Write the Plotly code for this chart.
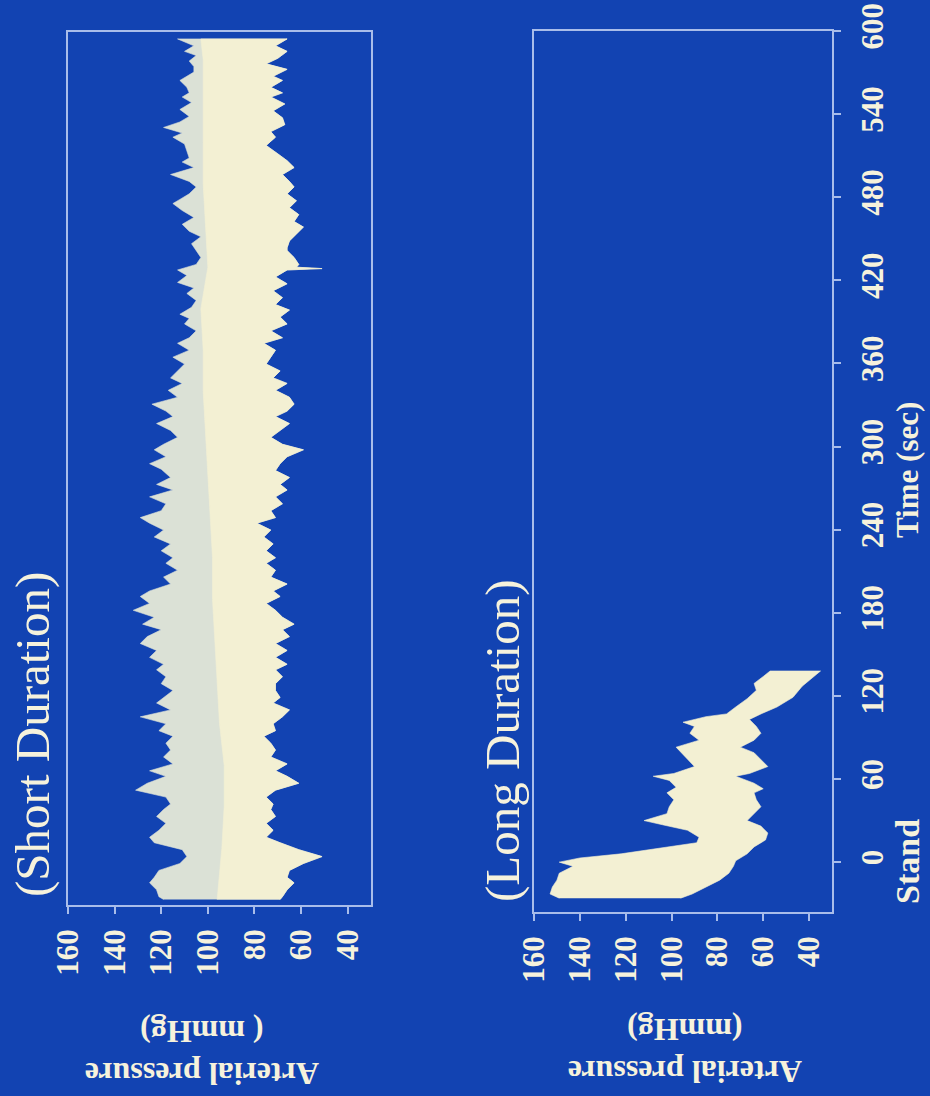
import plotly.graph_objects as go

# ---------------- data ----------------
# Short-duration subject: systolic (upper) envelope, time in s, pressure in mmHg
short_sys_t = [595, 590, 586, 583, 579, 575, 571, 565, 560, 556, 553, 549, 544, 539, 535, 531, 527, 524,
               519, 514, 509, 506, 502, 497, 492, 488, 483, 479, 476, 471, 466, 461, 456, 452, 447,
               442, 437, 432, 428, 424, 419, 415, 411, 406, 401, 396, 393, 389, 384, 379, 375, 370, 365,
               360, 355, 350, 346, 341, 336, 331, 326, 322, 317, 312, 307, 302, 298, 293, 288, 284,
               278, 273, 269, 264, 259, 254, 249, 245, 240, 235, 230, 225, 220, 216, 211, 206, 201, 196,
               192, 187, 182, 177, 172, 168, 163, 158, 153, 148, 143, 139, 134, 129,
               124, 119, 115, 110, 105, 100, 95, 91, 86, 81, 76, 71, 66, 62, 57, 52, 47, 42, 38, 33,
               28, 23, 18, 14, 9, 4, -1, -6, -11, -15, -20, -25, -27]
short_sys = [113, 106, 110, 105, 108, 106, 106, 112, 109, 108, 111, 107, 112, 108, 112, 119, 111, 115,
             110, 109, 108, 111, 106, 116, 108, 105, 108, 112, 115, 111, 106, 111, 108, 103, 107,
             105, 103, 105, 113, 109, 113, 106, 109, 105, 107, 112, 108, 110, 105, 108, 113, 108, 115,
             110, 113, 116, 111, 117, 113, 124, 118, 115, 122, 116, 113, 119, 123, 118, 125, 120,
             116, 122, 115, 125, 118, 120, 129, 125, 119, 123, 116, 120, 115, 118, 113, 119, 116, 125,
             129, 125, 132, 123, 128, 120, 126, 129, 122, 125, 119, 122, 118, 120,
             115, 119, 122, 116, 129, 118, 121, 115, 118, 116, 119, 115, 125, 118, 126, 131, 118, 116, 119, 122,
             118, 121, 125, 123, 111, 109, 112, 121, 123, 125, 122, 121, 119]

# Short-duration subject: diastolic (lower) envelope
short_dia_t = [595, 590, 586, 581, 577, 573, 568, 565, 560, 556, 553, 548, 543, 538, 533, 528, 524, 518,
               512, 507, 502, 497, 492, 488, 483, 478, 473, 468, 463, 459, 454, 449, 444,
               442, 437, 432, 430, 429, 428, 423, 418, 413, 408, 403, 399, 394, 389, 384, 379, 375, 370,
               365, 360, 355, 350, 346, 341, 336, 331, 326, 322, 317, 312, 307, 302, 298, 293, 288,
               283, 278, 273, 269, 264, 259, 254, 249, 245, 240, 235, 230, 225, 220, 216, 211, 206, 201,
               196, 192, 187, 182, 177, 172, 168, 163, 158, 153, 148, 143, 139, 134, 129,
               124, 119, 115, 110, 105, 100, 95, 91, 86, 81, 76, 71, 66, 62, 57, 52, 47, 42, 38, 33,
               28, 23, 18, 14, 9, 4, -1, -6, -11, -15, -20, -25, -27]
short_dia = [66, 71, 66, 70, 75, 66, 72, 68, 73, 68, 73, 67, 72, 68, 67, 73, 71, 75,
             70, 66, 63, 68, 65, 63, 66, 62, 65, 61, 63, 59, 62, 65, 66,
             66, 63, 61, 62, 51, 66, 71, 66, 72, 68, 71, 65, 69, 66, 73, 68, 76, 71,
             73, 75, 69, 72, 66, 71, 65, 63, 66, 71, 65, 69, 73, 68, 59, 66, 69,
             71, 65, 69, 66, 71, 68, 73, 71, 79, 73, 76, 72, 75, 71, 75, 71, 73, 66,
             72, 69, 75, 71, 68, 63, 68, 65, 71, 66, 71, 66, 71, 68, 71,
             71, 69, 72, 65, 68, 72, 71, 76, 73, 71, 73, 66, 71, 66, 61, 71, 75, 72, 73, 71,
             75, 72, 75, 69, 61, 51, 59, 65, 66, 63, 66, 68, 69]

# Short-duration subject: edge of the dense (mean-pressure) core of the trace
short_core_t = [-27, -10, 10, 40, 70, 100, 130, 160, 190, 220, 250, 280, 310, 340, 370, 400, 430,
                460, 490, 520, 550, 580, 595]
short_core = [96, 95, 94, 93, 93, 95, 96, 97, 98, 98, 99, 100, 101, 102, 102, 103, 100,
              101, 102, 102, 102, 102, 103]

# Long-duration subject: systolic envelope
long_sys_t = [138, 134, 129, 124, 118, 112, 107, 105, 101, 98, 93, 88, 83, 79, 74, 69, 64, 62, 59, 54,
              50, 45, 40, 35, 30, 27, 23, 18, 14, 10, 6, 3, 0, -3, -8, -13, -18, -23, -26]
long_sys = [57, 60, 64, 63, 67, 72, 76, 85, 95, 90, 92, 88, 98, 96, 93, 90, 99, 108, 101, 98,
            102, 99, 101, 102, 112, 104, 93, 88, 89, 105, 122, 140, 149, 143, 149, 150, 152, 153, 149]

# Long-duration subject: diastolic envelope
long_dia_t = [138, 134, 127, 119, 112, 107, 103, 98, 93, 88, 83, 79, 74, 69, 64, 62, 57, 53, 50, 45,
              40, 35, 30, 26, 21, 16, 11, 6, 1, -3, -8, -13, -18, -23, -26]
long_dia = [35, 38, 43, 47, 54, 61, 66, 63, 61, 64, 70, 64, 61, 58, 66, 72, 64, 60, 64, 63,
            61, 64, 67, 61, 58, 59, 64, 67, 72, 73, 75, 79, 85, 91, 96]

pressure_ticks = [160, 140, 120, 100, 80, 60, 40]
time_ticks = [0, 60, 120, 180, 240, 300, 360, 420, 480, 540, 600]

# ---------------- style ----------------
W, H = 930, 1096
BG = "#1243b2"
AXIS = "#a9bdea"
TEXT = "#f6f2dc"
CREAM = "#f3f0d3"
PALE = "#dbe1d6"
SERIF = "Liberation Serif"


def ordered(t, v):
    pairs = sorted(zip(t, v))
    return [p[0] for p in pairs], [p[1] for p in pairs]


def band(t_a, a, t_b, b):
    """Closed outline running up edge a and back down edge b."""
    ta, va = ordered(t_a, a)
    tb, vb = ordered(t_b, b)
    return va + vb[::-1], ta + tb[::-1]


def px_x(x):
    return x / W


def px_y(y):
    return 1 - y / H


fig = go.Figure()

sx, sy = band(short_sys_t, short_sys, short_dia_t, short_dia)
fig.add_trace(go.Scatter(x=sx, y=sy, mode="lines", fill="toself", fillcolor=PALE,
                         line=dict(width=0.6, color=PALE), xaxis="x", yaxis="y",
                         hoverinfo="skip", showlegend=False))
cx, cy = band(short_core_t, short_core, short_dia_t, short_dia)
fig.add_trace(go.Scatter(x=cx, y=cy, mode="lines", fill="toself", fillcolor=CREAM,
                         line=dict(width=0.6, color=CREAM), xaxis="x", yaxis="y",
                         hoverinfo="skip", showlegend=False))
lx, ly = band(long_sys_t, long_sys, long_dia_t, long_dia)
fig.add_trace(go.Scatter(x=lx, y=ly, mode="lines", fill="toself", fillcolor=CREAM,
                         line=dict(width=0.6, color=CREAM), xaxis="x2", yaxis="y2",
                         hoverinfo="skip", showlegend=False))

tick_font = dict(family=SERIF, size=31, color=TEXT, weight="bold")

pressure_axis = dict(range=[160, 30], tickvals=pressure_ticks, ticktext=[str(v) for v in pressure_ticks],
                     ticks="outside", ticklen=7, tickwidth=1.5, tickcolor=AXIS,
                     showline=True, linecolor=AXIS, linewidth=1.5, mirror=True,
                     showgrid=False, zeroline=False, tickangle=-90, tickfont=tick_font,
                     ticklabelstandoff=3, automargin=False, fixedrange=True)

fig.update_layout(
    template="none",
    width=W, height=H, margin=dict(l=0, r=0, t=0, b=0, pad=0, autoexpand=False),
    paper_bgcolor=BG, plot_bgcolor=BG, showlegend=False,
    xaxis=dict(pressure_axis, domain=[px_x(68), px_x(371)], anchor="y"),
    yaxis=dict(domain=[px_y(905), px_y(32)], range=[-31, 600], anchor="x",
               showline=True, linecolor=AXIS, linewidth=1.5, mirror=True,
               showgrid=False, zeroline=False, ticks="", showticklabels=False,
               automargin=False, fixedrange=True),
    xaxis2=dict(pressure_axis, domain=[px_x(534), px_x(832)], anchor="y2"),
    yaxis2=dict(domain=[px_y(912), px_y(31)], range=[-36, 600], anchor="x2", side="right",
                tickvals=time_ticks, ticktext=[str(v) for v in time_ticks],
                ticks="outside", ticklen=7, tickwidth=1.5, tickcolor=AXIS,
                showline=True, linecolor=AXIS, linewidth=1.5, mirror=True,
                showgrid=False, zeroline=False, tickangle=-90, tickfont=tick_font,
                ticklabelstandoff=5, automargin=False, fixedrange=True),
)

annotations = [
    dict(text="(Short Duration)", x=px_x(32), y=px_y(735), textangle=-90,
         font=dict(family=SERIF, size=49, color=TEXT)),
    dict(text="(Long Duration)", x=px_x(502), y=px_y(741), textangle=-90,
         font=dict(family=SERIF, size=49, color=TEXT)),
    dict(text="Time (sec)", x=px_x(908), y=px_y(470), textangle=-90,
         font=dict(family=SERIF, size=31, color=TEXT, weight="bold")),
    dict(text="Stand", x=px_x(907), y=px_y(862), textangle=-90,
         font=dict(family=SERIF, size=34, color=TEXT, weight="bold")),
    dict(text="Arterial pressure<br>( mmHg)", x=px_x(202), y=px_y(1053), textangle=180,
         font=dict(family=SERIF, size=32, color=TEXT, weight="bold")),
    dict(text="Arterial pressure<br>(mmHg)", x=px_x(685), y=px_y(1051), textangle=180,
         font=dict(family=SERIF, size=32, color=TEXT, weight="bold")),
]
for a in annotations:
    a.update(xref="paper", yref="paper", showarrow=False, xanchor="center", yanchor="middle")
fig.update_layout(annotations=annotations)

fig.write_html("out.html")
